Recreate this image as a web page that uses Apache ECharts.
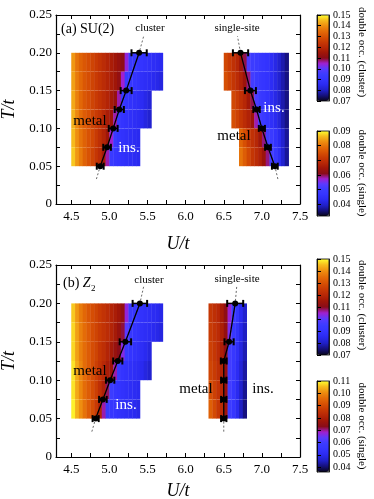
<!DOCTYPE html>
<html>
<head>
<meta charset="utf-8">
<script src="https://cdn.jsdelivr.net/npm/echarts@6/dist/echarts.min.js"></script>
<style>
html, body { margin: 0; padding: 0; background: #fff; }
#main { width: 374px; height: 499px; }
</style>
</head>
<body>
<div id="main"></div>
<script>
// heatmap rows (lower edge of each row in T), every row is 0.025 high, cells 0.05 wide in U
var tRows = [0.175, 0.15, 0.125, 0.1, 0.075, 0.05];
var dU = 0.05, dT = 0.025;

// (a) SU(2), cluster: double occupancy
var aClusterU0 = [4.5, 4.5, 4.5, 4.5, 4.5, 4.5];
var aClusterRows = [
  [.141,.136,.133,.131,.129,.127,.125,.123,.121,.119,.117,.115,.113,.111,.104,.093,.091,.090,.090,.089,.088,.087,.086,.085],
  [.142,.137,.134,.131,.129,.127,.125,.123,.121,.119,.117,.115,.112,.105,.094,.091,.090,.089,.088,.087,.086,.085,.084,.083],
  [.143,.138,.134,.131,.129,.127,.125,.123,.121,.119,.116,.113,.106,.094,.090,.089,.088,.087,.086,.084,.082],
  [.144,.139,.135,.132,.130,.127,.125,.123,.120,.117,.114,.106,.094,.090,.089,.088,.087,.086,.085,.083,.081],
  [.145,.140,.136,.133,.130,.128,.125,.122,.119,.115,.105,.093,.090,.089,.088,.087,.086,.085],
  [.146,.141,.137,.133,.130,.127,.124,.121,.116,.106,.094,.091,.090,.089,.088,.087,.086,.085]
];
// (a) SU(2), single-site
var aSingleU0 = [6.5, 6.5, 6.6, 6.6, 6.7, 6.7];
var aSingleRows = [
  [.074,.072,.070,.068,.065,.060,.052,.050,.049,.048,.047,.046,.044,.042,.040,.038,.036],
  [.075,.073,.071,.069,.067,.064,.059,.051,.049,.048,.047,.046,.044,.042,.040,.038,.036],
  [.074,.072,.070,.068,.065,.060,.052,.049,.048,.046,.044,.042,.040,.038,.036],
  [.075,.073,.071,.069,.067,.064,.058,.051,.049,.047,.045,.043,.041,.038,.036],
  [.078,.075,.072,.070,.068,.065,.059,.051,.049,.046,.043,.040,.037],
  [.080,.077,.074,.071,.069,.067,.064,.059,.051,.048,.044,.040,.037]
];
// (b) Z2, cluster
var bClusterU0 = [4.5, 4.5, 4.5, 4.5, 4.5, 4.5];
var bClusterRows = [
  [.146,.141,.137,.134,.131,.129,.127,.125,.123,.121,.119,.117,.115,.112,.104,.093,.091,.090,.089,.088,.087,.086,.085,.084],
  [.147,.142,.138,.135,.132,.129,.127,.125,.123,.121,.119,.116,.113,.109,.100,.092,.090,.089,.088,.087,.086,.085,.084,.083],
  [.147,.142,.138,.135,.132,.129,.127,.124,.122,.119,.116,.113,.110,.103,.093,.090,.089,.088,.087,.085,.083],
  [.148,.143,.139,.135,.132,.129,.126,.123,.120,.117,.114,.106,.094,.090,.089,.088,.087,.086,.085,.083,.081],
  [.148,.143,.139,.135,.132,.129,.126,.122,.118,.108,.095,.091,.090,.089,.088,.087,.086,.085],
  [.149,.144,.140,.136,.132,.129,.125,.119,.106,.094,.091,.090,.089,.088,.087,.086,.085,.084]
];
// (b) Z2, single-site
var bSingleU0 = [6.3, 6.3, 6.3, 6.3, 6.3, 6.3];
var bSingleRows = [
  [.086,.084,.082,.079,.074,.068,.058,.055,.050,.046],
  [.087,.085,.083,.080,.075,.066,.057,.053,.049,.045],
  [.088,.086,.083,.080,.074,.060,.056,.052,.048,.044],
  [.089,.087,.084,.081,.075,.060,.056,.051,.047,.043],
  [.091,.088,.085,.082,.076,.060,.055,.050,.046,.042],
  [.094,.090,.086,.083,.077,.059,.055,.050,.045,.041]
];

// transition lines with horizontal error bars
var lineT = [0.05, 0.075, 0.1, 0.125, 0.15, 0.2];
var aClusterU = [4.88, 4.97, 5.05, 5.13, 5.22, 5.39];
var aClusterErr = [0.045, 0.05, 0.058, 0.06, 0.072, 0.1];
var aSingleU = [7.17, 7.08, 7.0, 6.93, 6.85, 6.72];
var aSingleErr = [0.038, 0.038, 0.04, 0.042, 0.072, 0.1];
var bClusterU = [4.82, 4.915, 5.01, 5.11, 5.21, 5.40];
var bClusterErr = [0.04, 0.05, 0.055, 0.06, 0.075, 0.095];
var bSingleU = [6.5, 6.5, 6.5, 6.5, 6.57, 6.65];
var bSingleErr = [0.035, 0.035, 0.035, 0.038, 0.06, 0.105];
// dotted extrapolation ends (bottom, top)
var extT = [0.033, 0.222];
var aClusterExtU = [4.83, 5.45];
var aSingleExtU = [7.21, 6.68];
var bClusterExtU = [4.77, 5.45];
var bSingleExtU = [6.5, 6.67];

// ticks
var xLabels = [4.5, 5.0, 5.5, 6.0, 6.5, 7.0, 7.5];
var xTicks = [4.5, 4.75, 5.0, 5.25, 5.5, 5.75, 6.0, 6.25, 6.5, 6.75, 7.0, 7.25, 7.5];
var yLabels = [0, 0.05, 0.1, 0.15, 0.2, 0.25];
var yTicks = [0, 0.025, 0.05, 0.075, 0.1, 0.125, 0.15, 0.175, 0.2, 0.225, 0.25];
var cbClusterTicks = [0.07, 0.08, 0.09, 0.10, 0.11, 0.12, 0.13, 0.14, 0.15];
var aCbSingleTicks = [0.04, 0.05, 0.06, 0.07, 0.08, 0.09];
var bCbSingleTicks = [0.04, 0.05, 0.06, 0.07, 0.08, 0.09, 0.10, 0.11];

var cmap = ['#08041a', '#15107a', '#2020c8', '#2a2af0', '#3434ff', '#3c3cff', '#5a3aff', '#a020d0',
  '#8a0c18', '#a01608', '#b82806', '#c83a04', '#d85204', '#e46c08', '#ee8e10', '#f6ba1c', '#ffff30'];
var font = 'Liberation Serif';

function cells(u0s, rows) {
  var out = [];
  rows.forEach(function (vals, r) {
    vals.forEach(function (v, i) {
      out.push([u0s[r] + i * dU, tRows[r], v]);
    });
  });
  return out;
}
function zip() {
  var cols = Array.prototype.slice.call(arguments);
  return cols[0].map(function (_, i) { return cols.map(function (c) { return c[i]; }); });
}

function renderCell(params, api) {
  var u = api.value(0), t = api.value(1);
  var a = api.coord([u, t + dT]);
  var b = api.coord([u + dU, t]);
  return {
    type: 'rect',
    shape: { x: a[0], y: a[1], width: b[0] - a[0] + 0.4, height: b[1] - a[1] },
    style: { fill: api.visual('color') }
  };
}
function renderErr(params, api) {
  var u = api.value(0), t = api.value(1), e = api.value(2);
  var l = api.coord([u - e, t]), r = api.coord([u + e, t]);
  var h = 3.5;
  return {
    type: 'group',
    children: [
      { type: 'line', shape: { x1: l[0], y1: l[1], x2: r[0], y2: r[1] }, style: { stroke: '#000', lineWidth: 1.5 } },
      { type: 'line', shape: { x1: l[0], y1: l[1] - h, x2: l[0], y2: l[1] + h }, style: { stroke: '#000', lineWidth: 2 } },
      { type: 'line', shape: { x1: r[0], y1: r[1] - h, x2: r[0], y2: r[1] + h }, style: { stroke: '#000', lineWidth: 2 } }
    ]
  };
}

function mainX(grid, pos, main, gap) {
  return {
    type: 'value', gridIndex: grid, position: pos, min: 4.3, max: 7.5,
    axisLine: { show: true, onZero: false, lineStyle: { color: '#000', width: 1.2 } },
    axisTick: { show: true, inside: true, length: 4, customValues: xTicks, lineStyle: { color: '#000' } },
    axisLabel: { show: main, customValues: xLabels, formatter: function (v) { return v.toFixed(1); },
      color: '#000', fontFamily: font, fontSize: 13, margin: 6 },
    splitLine: { show: false },
    name: main ? 'U/t' : '', nameLocation: 'middle', nameGap: gap || 30,
    nameTextStyle: { fontFamily: font, fontSize: 18, fontStyle: 'italic', color: '#000' }
  };
}
function mainY(grid, pos, main) {
  return {
    type: 'value', gridIndex: grid, position: pos, min: 0, max: 0.25,
    axisLine: { show: true, onZero: false, lineStyle: { color: '#000', width: 1.2 } },
    axisTick: { show: true, inside: true, length: 4, customValues: yTicks, lineStyle: { color: '#000' } },
    axisLabel: { show: main, customValues: yLabels, formatter: function (v) { return v === 0 ? '0' : v.toFixed(2); },
      color: '#000', fontFamily: font, fontSize: 13, margin: 4 },
    splitLine: { show: false },
    name: main ? 'T/t' : '', nameLocation: 'middle', nameGap: 32,
    nameTextStyle: { fontFamily: font, fontSize: 18, fontStyle: 'italic', color: '#000' }
  };
}
function cbX(grid) {
  return { type: 'value', gridIndex: grid, show: false, min: 0, max: 1 };
}
function cbY(grid, pos, min, max, ticks) {
  var right = pos === 'right';
  return {
    type: 'value', gridIndex: grid, position: pos, min: min, max: max, z: 10,
    axisLine: { show: true, lineStyle: { color: '#000', width: 0.8 } },
    axisTick: { show: !right, inside: true, length: 4, customValues: ticks, lineStyle: { color: '#000' } },
    axisLabel: { show: right, customValues: ticks, formatter: function (v) { return v.toFixed(2); },
      color: '#000', fontFamily: font, fontSize: 10, margin: 4 },
    splitLine: { show: false }
  };
}
function cbMap(series, min, max, top, height) {
  return {
    type: 'continuous', seriesIndex: series, dimension: 2, min: min, max: max,
    left: 317, top: top, itemWidth: 12, itemHeight: height, padding: 0,
    calculable: false, hoverLink: false, show: true,
    inRange: { color: cmap }
  };
}
function cbGrid(top, height) {
  return { left: 317, top: top, width: 12, height: height, show: true, borderColor: '#000', borderWidth: 0.8,
    z: 5, outerBoundsMode: 'none' };
}
function cellSeries(x, y, data) {
  return { type: 'custom', xAxisIndex: x, yAxisIndex: y, renderItem: renderCell,
    encode: { x: 0, y: 1 }, data: data, silent: true, z: 1 };
}
function dashSeries(x, y, ext, u) {
  var d = [[ext[0], extT[0]]].concat(zip(u, lineT)).concat([[ext[1], extT[1]]]);
  d.sort(function (p, q) { return p[1] - q[1]; });
  return { type: 'line', xAxisIndex: x, yAxisIndex: y, data: d, symbol: 'none', z: 2,
    lineStyle: { color: '#444', width: 0.8, type: [2, 2] } };
}
function solidSeries(x, y, u) {
  return { type: 'line', xAxisIndex: x, yAxisIndex: y, data: zip(u, lineT), z: 3,
    symbol: 'circle', symbolSize: 6, itemStyle: { color: '#000' },
    lineStyle: { color: '#000', width: 1.3 } };
}
function errSeries(x, y, u, err) {
  return { type: 'custom', xAxisIndex: x, yAxisIndex: y, renderItem: renderErr,
    encode: { x: 0, y: 1 }, data: zip(u, lineT, err), z: 4 };
}
function txt(s, x, y, size, color, extra) {
  var o = { type: 'text', x: x, y: y, z: 100,
    style: { text: s, fontFamily: font, fontSize: size, fill: color || '#000', align: 'center', verticalAlign: 'middle' } };
  if (extra) { for (var k in extra) { o[k] = extra[k]; } }
  return o;
}

var chart = echarts.init(document.getElementById('main'));
chart.setOption({
  animation: false,
  backgroundColor: '#fff',
  grid: [
    { left: 56, top: 15, width: 244, height: 189, outerBoundsMode: 'none' },
    { left: 56, top: 265, width: 244, height: 192, outerBoundsMode: 'none' },
    cbGrid(15, 86),
    cbGrid(131, 85),
    cbGrid(259, 96),
    cbGrid(381, 91)
  ],
  xAxis: [
    mainX(0, 'bottom', true, 31), mainX(0, 'top', false),
    mainX(1, 'bottom', true, 25), mainX(1, 'top', false),
    cbX(2), cbX(3), cbX(4), cbX(5)
  ],
  yAxis: [
    mainY(0, 'left', true), mainY(0, 'right', false),
    mainY(1, 'left', true), mainY(1, 'right', false),
    cbY(2, 'left', 0.07, 0.15, cbClusterTicks), cbY(2, 'right', 0.07, 0.15, cbClusterTicks),
    cbY(3, 'left', 0.032, 0.09, aCbSingleTicks), cbY(3, 'right', 0.032, 0.09, aCbSingleTicks),
    cbY(4, 'left', 0.07, 0.15, cbClusterTicks), cbY(4, 'right', 0.07, 0.15, cbClusterTicks),
    cbY(5, 'left', 0.036, 0.11, bCbSingleTicks), cbY(5, 'right', 0.036, 0.11, bCbSingleTicks)
  ],
  visualMap: [
    cbMap(0, 0.07, 0.15, 15, 86),
    cbMap(1, 0.032, 0.09, 131, 85),
    cbMap(2, 0.07, 0.15, 259, 96),
    cbMap(3, 0.036, 0.11, 381, 91)
  ],
  series: [
    cellSeries(0, 0, cells(aClusterU0, aClusterRows)),
    cellSeries(0, 0, cells(aSingleU0, aSingleRows)),
    cellSeries(2, 2, cells(bClusterU0, bClusterRows)),
    cellSeries(2, 2, cells(bSingleU0, bSingleRows)),
    dashSeries(0, 0, aClusterExtU, aClusterU),
    dashSeries(0, 0, aSingleExtU, aSingleU),
    dashSeries(2, 2, bClusterExtU, bClusterU),
    dashSeries(2, 2, bSingleExtU, bSingleU),
    solidSeries(0, 0, aClusterU),
    solidSeries(0, 0, aSingleU),
    solidSeries(2, 2, bClusterU),
    solidSeries(2, 2, bSingleU),
    errSeries(0, 0, aClusterU, aClusterErr),
    errSeries(0, 0, aSingleU, aSingleErr),
    errSeries(2, 2, bClusterU, bClusterErr),
    errSeries(2, 2, bSingleU, bSingleErr)
  ],
  graphic: [
    { type: 'text', x: 61, y: 29, z: 100,
      style: { text: '(a) SU(2)', fontFamily: font, fontSize: 14, fill: '#000', align: 'left', verticalAlign: 'middle' } },
    txt('cluster', 150, 28, 11),
    txt('single-site', 237, 28, 11),
    txt('metal', 90, 121, 15),
    txt('ins.', 129, 148, 15, '#fff'),
    txt('ins.', 274, 108, 15, '#fff'),
    txt('metal', 234, 136, 15),
    { type: 'text', x: 63, y: 283, z: 100,
      style: { text: '(b) {z|Z}', fontFamily: font, fontSize: 14, fill: '#000', align: 'left', verticalAlign: 'middle',
        rich: { z: { fontFamily: font, fontSize: 14, fontStyle: 'italic', fill: '#000' } } } },
    { type: 'text', x: 91, y: 289, z: 100,
      style: { text: '2', fontFamily: font, fontSize: 9, fill: '#000', align: 'left', verticalAlign: 'middle' } },
    txt('cluster', 149, 280, 11),
    txt('single-site', 237, 279, 11),
    txt('metal', 90, 371, 15),
    txt('ins.', 126, 405, 15, '#fff'),
    txt('metal', 196, 389, 15),
    txt('ins.', 263, 389, 15),
    txt('double occ. (cluster)', 362, 52, 11, '#000', { rotation: -Math.PI / 2 }),
    txt('double occ. (single)', 362, 173, 11, '#000', { rotation: -Math.PI / 2 }),
    txt('double occ. (cluster)', 362, 305, 11, '#000', { rotation: -Math.PI / 2 }),
    txt('double occ. (single)', 362, 426, 11, '#000', { rotation: -Math.PI / 2 })
  ]
});
</script>
</body>
</html>
